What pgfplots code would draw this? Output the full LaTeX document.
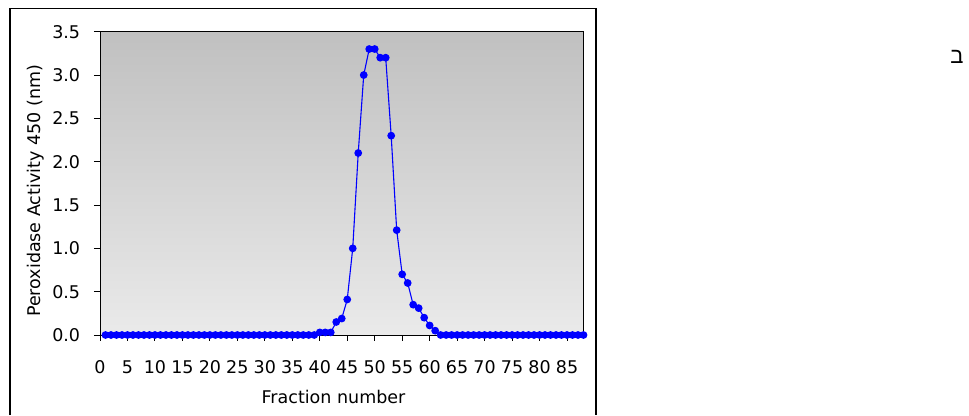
\documentclass[border=0pt]{standalone}
\usepackage{fontspec}
\setmainfont{DejaVu Sans}
\newfontfamily\hebfont[Script=Hebrew]{Liberation Sans}
\TeXXeTstate=1
\usepackage{pgfplots}
\usepackage{pgfplotstable}
\pgfplotsset{compat=1.18}
\definecolor{bgtop}{RGB}{192,192,192}
\definecolor{bgbot}{RGB}{234,234,234}
\definecolor{ser}{RGB}{0,0,255}
\pgfplotstableread{
x y
1 0
2 0
3 0
4 0
5 0
6 0
7 0
8 0
9 0
10 0
11 0
12 0
13 0
14 0
15 0
16 0
17 0
18 0
19 0
20 0
21 0
22 0
23 0
24 0
25 0
26 0
27 0
28 0
29 0
30 0
31 0
32 0
33 0
34 0
35 0
36 0
37 0
38 0
39 0
40 0.03
41 0.03
42 0.03
43 0.15
44 0.19
45 0.41
46 1.00
47 2.10
48 3.00
49 3.30
50 3.30
51 3.20
52 3.20
53 2.30
54 1.21
55 0.70
56 0.60
57 0.35
58 0.31
59 0.20
60 0.11
61 0.05
62 0
63 0
64 0
65 0
66 0
67 0
68 0
69 0
70 0
71 0
72 0
73 0
74 0
75 0
76 0
77 0
78 0
79 0
80 0
81 0
82 0
83 0
84 0
85 0
86 0
87 0
88 0
}\datatable
\begin{document}
\begin{tikzpicture}[x=1pt,y=1pt]
\path[use as bounding box] (0,0) rectangle (969,415);
\draw[line width=1.4pt] (10,0) -- (10,406.7) -- (596,406.7) -- (596,0);
\node[font=\hebfont\fontsize{22}{24}\selectfont] at (957,358) {\beginR ב\endR};
\begin{axis}[
  at={(100pt,80pt)}, anchor=south west,
  width=483.5pt, height=303.3pt, scale only axis,
  xmin=0, xmax=88, ymin=0, ymax=3.5,
  xtick={0,5,...,85}, ytick={0,0.5,1,1.5,2,2.5,3,3.5},
  tick align=outside, xtick pos=left, ytick pos=left,
  major tick length=6pt,
  tick style={black, line width=0.9pt},
  axis line style={black, line width=0.9pt},
  axis background/.style={shade, top color=bgtop, bottom color=bgbot},
  clip=false,
  /pgf/number format/assume math mode=true,
  yticklabel style={/pgf/number format/fixed, /pgf/number format/fixed zerofill, /pgf/number format/precision=1},
  ticklabel style={font=\fontsize{17.5}{20}\selectfont, inner sep=0pt},
  yticklabel style={anchor=east, xshift=-13.7pt},
  xticklabel style={anchor=center, yshift=-25.8pt},
  label style={font=\fontsize{17.5}{20}\selectfont},
  xlabel={Fraction number},
  ylabel={Peroxidase Activity 450 (nm)},
  xlabel style={at={(axis description cs:0.483,0)}, anchor=center, yshift=-61.7pt},
  ylabel style={at={(axis description cs:-0.133,0.475)}, anchor=center},
]
\addplot[color=ser, line width=1.1pt, mark=*, mark size=3.3pt, mark options={fill=ser, draw=ser}] table[x=x,y=y] {\datatable};
\end{axis}
\end{tikzpicture}
\end{document}
